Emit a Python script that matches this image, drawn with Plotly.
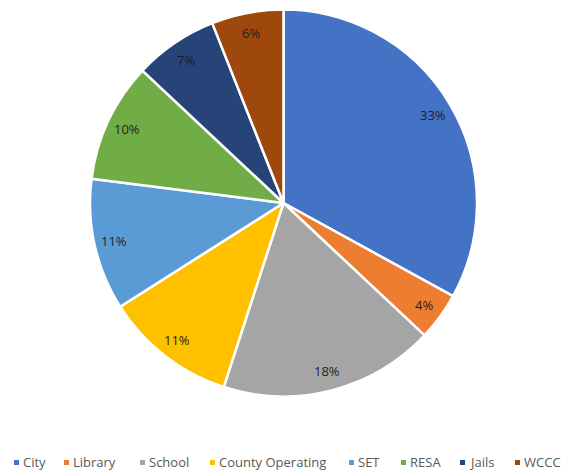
import math
import plotly.graph_objects as go

categories = ["City", "Library", "School", "County Operating", "SET", "RESA", "Jails", "WCCC"]
values = [33, 4, 18, 11, 11, 10, 7, 6]
colors = ["#4472C4", "#ED7D31", "#A5A5A5", "#FFC000", "#5B9BD5", "#70AD47", "#264478", "#9E480E"]

W, H = 568, 462          # figure size (page body has an 8px margin)
OFF = 8                  # page offset of the figure
cx, cy, r = 283.5 - OFF, 203 - OFF, 193.5
label_frac = 0.895
FONT = "Open Sans, Liberation Sans, sans-serif"

fig = go.Figure(go.Pie(
    labels=categories,
    values=values,
    sort=False,
    direction="clockwise",
    rotation=0,
    marker=dict(colors=colors, line=dict(color="white", width=2.5)),
    textinfo="none",
    domain=dict(x=[(cx - r) / W, (cx + r) / W], y=[1 - (cy + r) / H, 1 - (cy - r) / H]),
    hoverinfo="label+percent",
    showlegend=False,
))

# percentage labels placed near the outer part of each slice (derived from the values)
total = sum(values)
annotations = []
cum = 0.0
for v in values:
    mid = (cum + v / 2) / total * 2 * math.pi
    cum += v
    d = label_frac * r
    px = cx + d * math.sin(mid)
    py = cy - d * math.cos(mid)
    annotations.append(dict(
        x=px / W, y=1 - py / H, xref="paper", yref="paper",
        text=f"{round(v / total * 100)}%", showarrow=False,
        xanchor="center", yanchor="middle",
        font=dict(family=FONT, size=13, color="#1f1f1f"),
    ))

# legend drawn below the pie
legend_text_x = [21, 71, 147, 217, 356, 408, 467, 522]
legend_y = 461.5 - OFF
sq = 5
shapes = []
for name, col, tx in zip(categories, colors, legend_text_x):
    tx = tx - OFF
    sx = tx - 7
    shapes.append(dict(
        type="rect", xref="paper", yref="paper",
        x0=sx / W, x1=(sx + sq) / W,
        y0=1 - (legend_y + 1 + sq / 2) / H, y1=1 - (legend_y + 1 - sq / 2) / H,
        fillcolor=col, line=dict(width=0),
    ))
    annotations.append(dict(
        x=tx / W, y=1 - legend_y / H, xref="paper", yref="paper",
        text=name, showarrow=False, xanchor="left", yanchor="middle",
        font=dict(family=FONT, size=13, color="#595959"),
    ))

fig.update_layout(
    width=W, height=H,
    margin=dict(l=0, r=0, t=0, b=0),
    paper_bgcolor="white",
    plot_bgcolor="white",
    showlegend=False,
    annotations=annotations,
    shapes=shapes,
)

fig.write_html("out.html")
